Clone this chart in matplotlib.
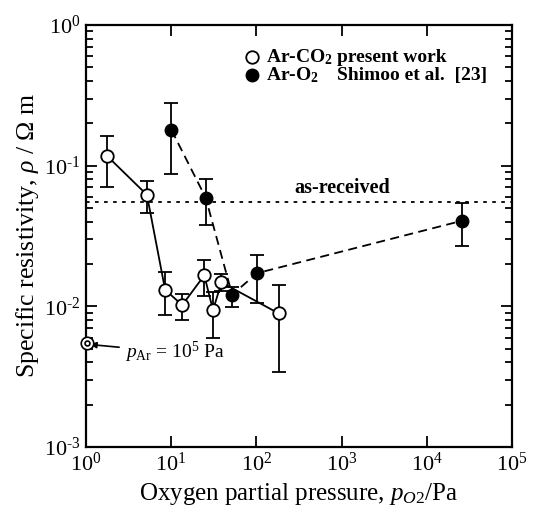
import numpy as np
import matplotlib
matplotlib.use('Agg')
import matplotlib.pyplot as plt
from matplotlib.ticker import LogLocator, NullLocator, FuncFormatter, NullFormatter

plt.rcParams['font.family'] = ['Liberation Serif', 'DejaVu Serif']
plt.rcParams['mathtext.fontset'] = 'custom'
plt.rcParams['mathtext.rm'] = 'Liberation Serif'
plt.rcParams['mathtext.it'] = 'Liberation Serif:italic'
plt.rcParams['mathtext.bf'] = 'Liberation Serif:bold'

# Ar-CO2, present work
co2_p = [1.75, 5.2, 8.5, 13.5, 24.5, 31.0, 39.0, 183.0]
co2_rho = [0.118, 0.062, 0.0131, 0.0102, 0.0166, 0.0094, 0.0148, 0.0089]
co2_hi = [0.163, 0.078, 0.0174, 0.0123, 0.0214, 0.0127, 0.0169, 0.0142]
co2_lo = [0.071, 0.046, 0.0087, 0.0080, 0.0119, 0.0060, 0.0128, 0.0034]

# Ar-O2, Shimoo et al. [23]
o2_p = [10.1, 25.4, 52.0, 102.0, 25700.0]
o2_rho = [0.179, 0.0593, 0.0121, 0.0172, 0.0405]
o2_hi = [0.279, 0.080, 0.0138, 0.0232, 0.0546]
o2_lo = [0.087, 0.0379, 0.00995, 0.0106, 0.0269]

as_received = 0.055
ar_point = (1.04, 0.0055)

fig = plt.figure(figsize=(5.37, 5.14), dpi=100)
ax = fig.add_axes([0.160, 0.1304, 0.7934, 0.821])

co2_rho = np.array(co2_rho)
o2_rho = np.array(o2_rho)
co2_err = [co2_rho - np.array(co2_lo), np.array(co2_hi) - co2_rho]
o2_err = [o2_rho - np.array(o2_lo), np.array(o2_hi) - o2_rho]

ax.axhline(as_received, color='k', ls=(0, (2, 3)), lw=1.3, zorder=1)

ax.errorbar(o2_p, o2_rho, yerr=o2_err, fmt='none', ecolor='k', elinewidth=1.3,
            capsize=5, capthick=1.3, zorder=2)
ax.plot(o2_p, o2_rho, color='k', ls=(0, (5, 3)), lw=1.3, marker='o', ms=9,
        mfc='k', mec='k', zorder=3)

ax.errorbar(co2_p, co2_rho, yerr=co2_err, fmt='none', ecolor='k', elinewidth=1.3,
            capsize=5, capthick=1.3, zorder=2)
ax.plot(co2_p, co2_rho, color='k', ls='-', lw=1.3, marker='o', ms=9,
        mfc='white', mec='k', mew=1.3, zorder=4)

# Ar point (double circle)
ax.plot([ar_point[0]], [ar_point[1]], marker='o', ms=9, mfc='white', mec='k',
        mew=1.2, clip_on=False, zorder=5)
ax.plot([ar_point[0]], [ar_point[1]], marker='o', ms=3.5, mfc='white', mec='k',
        mew=1.2, clip_on=False, zorder=6)
ax.annotate(r'$p_{\mathrm{Ar}}$ = 10$^5$ Pa', xy=(1.12, 0.00535), xytext=(2.85, 0.0047),
            fontsize=14, va='center', ha='left',
            arrowprops=dict(arrowstyle='-|>', color='k', lw=1.2,
                            mutation_scale=9, shrinkA=2, shrinkB=0))

ax.text(1010, 0.0585, 'as-received', fontsize=14.5, fontweight='bold',
        ha='center', va='bottom')

# legend
ax.plot([0.39], [0.924], marker='o', ms=9, mfc='white', mec='k', mew=1.3,
        transform=ax.transAxes, ls='none')
ax.plot([0.39], [0.881], marker='o', ms=9, mfc='k', mec='k',
        transform=ax.transAxes, ls='none')
ax.text(0.423, 0.924, r'Ar-CO$_\mathbf{2}$', transform=ax.transAxes, fontsize=14,
        fontweight='bold', va='center')
ax.text(0.423, 0.881, r'Ar-O$_\mathbf{2}$', transform=ax.transAxes, fontsize=14,
        fontweight='bold', va='center')
ax.text(0.589, 0.924, 'present work', transform=ax.transAxes, fontsize=14,
        fontweight='bold', va='center')
ax.text(0.589, 0.881, 'Shimoo et al.  [23]', transform=ax.transAxes, fontsize=14,
        fontweight='bold', va='center')

ax.set_xscale('log')
ax.set_yscale('log')
ax.set_xlim(1, 1e5)
ax.set_ylim(1e-3, 1)


def dec_label(v, pos):
    n = int(round(np.log10(v)))
    if n < 0:
        return r'$\mathregular{10^{\text{-}%d}}$' % (-n)
    return r'$\mathregular{10^{%d}}$' % n


fmt = FuncFormatter(dec_label)
ax.xaxis.set_major_locator(LogLocator(base=10, numticks=10))
ax.xaxis.set_minor_locator(NullLocator())
ax.yaxis.set_major_locator(LogLocator(base=10, numticks=10))
ax.yaxis.set_minor_locator(LogLocator(base=10, subs=np.arange(2, 10), numticks=10))
ax.yaxis.set_minor_formatter(NullFormatter())
ax.xaxis.set_major_formatter(fmt)
ax.yaxis.set_major_formatter(fmt)

ax.tick_params(which='both', direction='in', top=True, right=True, width=1.3,
               labelsize=16)
ax.tick_params(which='major', length=8, pad=4)
ax.tick_params(which='minor', length=5)
for s in ax.spines.values():
    s.set_linewidth(1.6)

ax.set_xlabel(r'Oxygen partial pressure, $p_{O2}$/Pa', fontsize=18, labelpad=4)
ax.set_ylabel(r'Specific resistivity, $\rho$ / $\Omega$ m', fontsize=18.5, labelpad=2)

fig.savefig('out.png', dpi=100)
